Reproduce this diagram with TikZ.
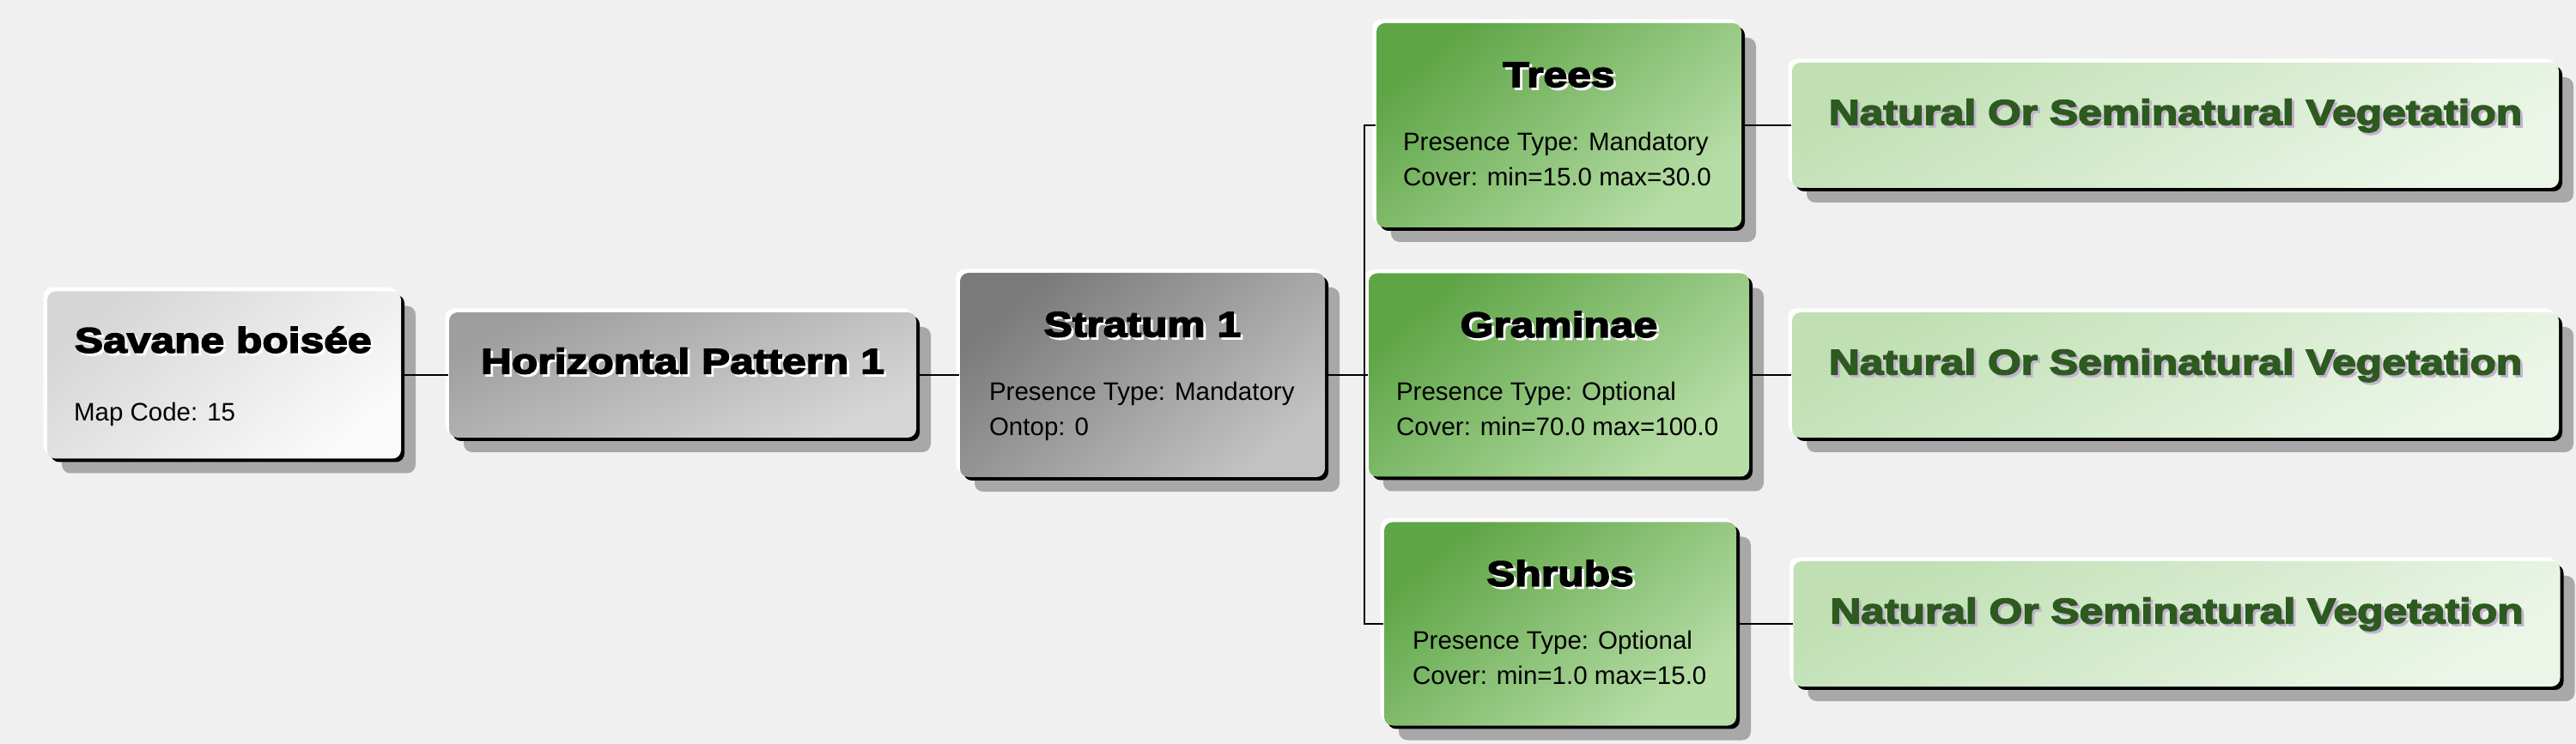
\documentclass[tikz,border=0pt]{standalone}
\usepackage{fontspec}
\setmainfont{Liberation Sans}
\newfontfamily\headfont{Liberation Sans}[BoldFeatures={FakeStretch=1.21,FakeBold=4}]
\usetikzlibrary{shadows}
\definecolor{canvas}{HTML}{F0F0F0}
\definecolor{dropgrey}{HTML}{A8A8A8}
\definecolor{leafdark}{HTML}{5EA546}
\definecolor{leaflight}{HTML}{B8DEA8}
\definecolor{palegreen}{HTML}{C0E0B4}
\definecolor{palelight}{HTML}{ECF6E8}
\definecolor{vegtext}{HTML}{2D5A1E}
\definecolor{vegshadow}{HTML}{C4B2D0}
\newcommand\embossed[2]{\rlap{\kern0.8pt\raisebox{-0.8pt}{\textcolor{#2}{#1}}}#1}
\begin{document}
\begin{tikzpicture}
\tikzstyle{every node}+=[inner sep=0pt]
\tikzstyle{raised}=[rounded corners=0.1cm,
  general shadow={fill=dropgrey, shadow xshift=0.17cm, shadow yshift=-0.17cm},
  general shadow={fill=black, shadow xshift=0.04cm, shadow yshift=-0.04cm},
  general shadow={fill=white, shadow xshift=-0.045cm, shadow yshift=0.045cm}]
\tikzstyle{lightbox}=[raised, top color=black!16, bottom color=black!2, shading angle=40]
\tikzstyle{midbox}=[raised, top color=black!38, bottom color=black!16, shading angle=25]
\tikzstyle{darkbox}=[raised, top color=black!52, bottom color=black!24, shading angle=40]
\tikzstyle{greenbox}=[raised, top color=leafdark, bottom color=leaflight, shading angle=40]
\tikzstyle{vegbox}=[raised, top color=palegreen, bottom color=palelight, shading angle=30]
\tikzstyle{title}=[font=\headfont\bfseries\fontsize{11.7}{13}\selectfont]
\tikzstyle{info}=[font=\fontsize{8.4}{10}\selectfont, anchor=base west]
\tikzstyle{link}=[line width=0.6pt, black]
\fill [canvas] (0,0) rectangle (30,-8.67);
\useasboundingbox (0,0) rectangle (30,-8.67);
% boxes
\node [lightbox, minimum width=4.12cm, minimum height=1.95cm] (sav) at (2.61,-4.37) {};
\node [midbox, minimum width=5.44cm, minimum height=1.46cm] (hp) at (7.95,-4.37) {};
\node [darkbox, minimum width=4.25cm, minimum height=2.38cm] (str) at (13.305,-4.37) {};
\node [greenbox, minimum width=4.25cm, minimum height=2.38cm] (tre) at (18.155,-1.46) {};
\node [greenbox, minimum width=4.43cm, minimum height=2.37cm] (gra) at (18.155,-4.37) {};
\node [greenbox, minimum width=4.10cm, minimum height=2.37cm] (shr) at (18.17,-7.27) {};
\node [vegbox, minimum width=8.93cm, minimum height=1.46cm] (veg1) at (25.335,-1.46) {};
\node [vegbox, minimum width=8.93cm, minimum height=1.46cm] (veg2) at (25.335,-4.37) {};
\node [vegbox, minimum width=8.93cm, minimum height=1.46cm] (veg3) at (25.35,-7.27) {};
% texts
\node [title, anchor=base west] (sav-t) at ([xshift=0.32cm,yshift=-0.72cm]sav.north west) {\embossed{Savane boisée}{white}};
\node [info] (sav-a) at ([xshift=0.31cm,yshift=-1.52cm]sav.north west) {Map Code: 15};
\node [title, anchor=base] (hp-t) at ([yshift=-0.72cm]hp.north) {\embossed{Horizontal Pattern 1}{white}};
\node [title, anchor=base] (str-t) at ([yshift=-0.75cm]str.north) {\embossed{Stratum 1}{white}};
\node [info] (str-a) at ([xshift=0.34cm,yshift=-1.49cm]str.north west) {Presence Type: Mandatory};
\node [info] (str-b) at ([xshift=0.34cm,yshift=-1.90cm]str.north west) {Ontop: 0};
\node [title, anchor=base] (tre-t) at ([yshift=-0.75cm]tre.north) {\embossed{Trees}{white}};
\node [info] (tre-a) at ([xshift=0.31cm,yshift=-1.49cm]tre.north west) {Presence Type: Mandatory};
\node [info] (tre-b) at ([xshift=0.31cm,yshift=-1.90cm]tre.north west) {Cover: min=15.0 max=30.0};
\node [title, anchor=base] (gra-t) at ([yshift=-0.75cm]gra.north) {\embossed{Graminae}{white}};
\node [info] (gra-a) at ([xshift=0.32cm,yshift=-1.49cm]gra.north west) {Presence Type: Optional};
\node [info] (gra-b) at ([xshift=0.32cm,yshift=-1.90cm]gra.north west) {Cover: min=70.0 max=100.0};
\node [title, anchor=base] (shr-t) at ([yshift=-0.75cm]shr.north) {\embossed{Shrubs}{white}};
\node [info] (shr-a) at ([xshift=0.33cm,yshift=-1.49cm]shr.north west) {Presence Type: Optional};
\node [info] (shr-b) at ([xshift=0.33cm,yshift=-1.90cm]shr.north west) {Cover: min=1.0 max=15.0};
\node [title, anchor=base, text=vegtext] (veg1-t) at ([yshift=-0.73cm]veg1.north) {\embossed{Natural Or Seminatural Vegetation}{vegshadow}};
\node [title, anchor=base, text=vegtext] (veg2-t) at ([yshift=-0.73cm]veg2.north) {\embossed{Natural Or Seminatural Vegetation}{vegshadow}};
\node [title, anchor=base, text=vegtext] (veg3-t) at ([yshift=-0.73cm]veg3.north) {\embossed{Natural Or Seminatural Vegetation}{vegshadow}};
% links
\coordinate (bus) at (15.89,-4.37);
\draw [link] (sav.east) -- (hp.west);
\draw [link] (hp.east) -- (str.west);
\draw [link] (str.east) -- (gra.west);
\draw [link] (tre.west) -| (bus) |- (shr.west);
\draw [link] (tre.east) -- (veg1.west);
\draw [link] (gra.east) -- (veg2.west);
\draw [link] (shr.east) -- (veg3.west);
\end{tikzpicture}
\end{document}
